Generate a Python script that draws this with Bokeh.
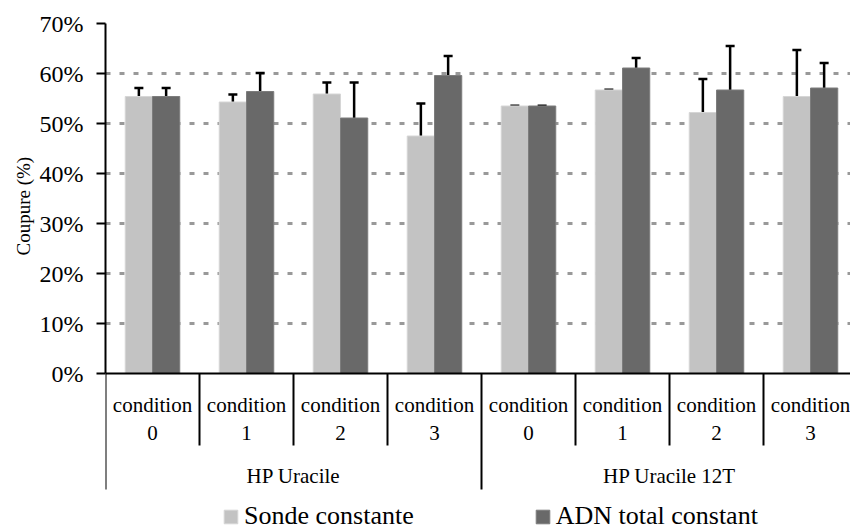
from bokeh.plotting import figure
from bokeh.models import (Range1d, FixedTicker, PrintfTickFormatter, Span, Whisker,
                          TeeHead, ColumnDataSource, Legend, LegendItem, Title)
from bokeh.core.properties import value
from bokeh.embed import file_html
from bokeh.resources import INLINE

# ---- data ----
groups = ["HP Uracile", "HP Uracile 12T"]
conditions = ["condition\n0", "condition\n1", "condition\n2", "condition\n3"]
series_names = ["Sonde constante", "ADN total constant"]
sonde = [55.4, 54.3, 55.9, 47.5, 53.5, 56.7, 52.2, 55.4]
sonde_err = [1.7, 1.5, 2.3, 6.5, 0.05, 0.05, 6.7, 9.3]
adn = [55.4, 56.4, 51.1, 59.6, 53.5, 61.1, 56.7, 57.1]
adn_err = [1.7, 3.7, 7.1, 3.9, 0.05, 2.0, 8.8, 5.0]
y_ticks = [0, 10, 20, 30, 40, 50, 60, 70]
y_label = "Coupure (%)"

FONT = "Liberation Serif"
n_cond = len(conditions)
n = len(groups) * n_cond
labels = [c for g in groups for c in conditions]
centers = [i + 0.5 for i in range(n)]
bw = 0.29
off = 0.145

p = figure(width=850, height=531, output_backend="svg", toolbar_location=None,
           x_axis_type=None, x_range=Range1d(0, 745 / 94), y_range=Range1d(-31.6, 70),
           min_border_left=105, min_border_right=0, min_border_top=23, min_border_bottom=0)
p.outline_line_color = None
p.xgrid.visible = False
p.background_fill_color = "white"

# y axis
ax = p.yaxis[0]
ax.ticker = FixedTicker(ticks=y_ticks)
ax.formatter = PrintfTickFormatter(format="%d%%")
ax.bounds = (0, 70)
ax.axis_line_width = 2
ax.axis_line_color = "black"
ax.major_tick_line_width = 2
ax.major_tick_line_color = "black"
ax.major_tick_in = 0
ax.major_tick_out = 9
ax.minor_tick_line_color = None
ax.major_label_text_font = FONT
ax.major_label_text_font_size = "24px"
ax.major_label_text_color = "black"
ax.major_label_standoff = 13

# y-axis title, positioned along the 0-70 % part of the axis
p.add_layout(Title(text=y_label, align="left", offset=276, standoff=6,
                   text_font=FONT, text_font_size="19px", text_font_style="normal",
                   text_color="black"), "left")

g = p.ygrid[0]
g.ticker = FixedTicker(ticks=y_ticks[1:])
g.grid_line_color = "#999999"
g.grid_line_width = 3
g.grid_line_dash = "5 9"

# bars
src = ColumnDataSource(dict(
    xl=[c - off for c in centers], xr=[c + off for c in centers],
    s=sonde, a=adn,
    su=[v + e for v, e in zip(sonde, sonde_err)],
    au=[v + e for v, e in zip(adn, adn_err)],
))
r1 = p.vbar(x="xl", top="s", bottom=0, width=bw, source=src,
            fill_color="#c3c3c3", line_color="#d6d6d6", line_width=1)
r2 = p.vbar(x="xr", top="a", bottom=0, width=bw, source=src,
            fill_color="#696969", line_color="#7d7d7d", line_width=1)

for xcol, lo, hi in (("xl", "s", "su"), ("xr", "a", "au")):
    w = Whisker(base=xcol, lower=lo, upper=hi, source=src,
                line_color="black", line_width=2.5,
                upper_head=TeeHead(size=9, line_width=2.5, line_color="black"),
                lower_head=None)
    p.add_layout(w)

# category axis drawn by hand
p.add_layout(Span(location=0, dimension="width", line_color="black", line_width=2))
sep_x = list(range(n + 1))
sep_bottom = [-23.2 if k % n_cond == 0 else -14.4 for k in sep_x]
p.segment(x0=sep_x, y0=[0] * len(sep_x), x1=sep_x, y1=sep_bottom,
          line_color="black", line_width=2)
p.text(x=centers, y=[-9.1] * n, text=labels, text_font=value(FONT),
       text_font_size="21px", text_align="center", text_baseline="middle",
       text_line_height=1.2, text_color="black")
p.text(x=[gi * n_cond + n_cond / 2 for gi in range(len(groups))], y=[-20.4] * len(groups),
       text=groups, text_font=value(FONT), text_font_size="21px",
       text_align="center", text_baseline="middle", text_color="black")

legend = Legend(items=[LegendItem(label=series_names[0], renderers=[r1]),
                       LegendItem(label=series_names[1], renderers=[r2])],
                orientation="horizontal", location=(117, 0), spacing=120,
                padding=0, margin=0, border_line_color=None,
                glyph_width=17, glyph_height=17, label_standoff=5,
                label_text_font=FONT, label_text_font_size="26px",
                label_text_color="black", background_fill_alpha=0)
p.add_layout(legend, "center")

open("out.html", "w").write(file_html(p, INLINE))
